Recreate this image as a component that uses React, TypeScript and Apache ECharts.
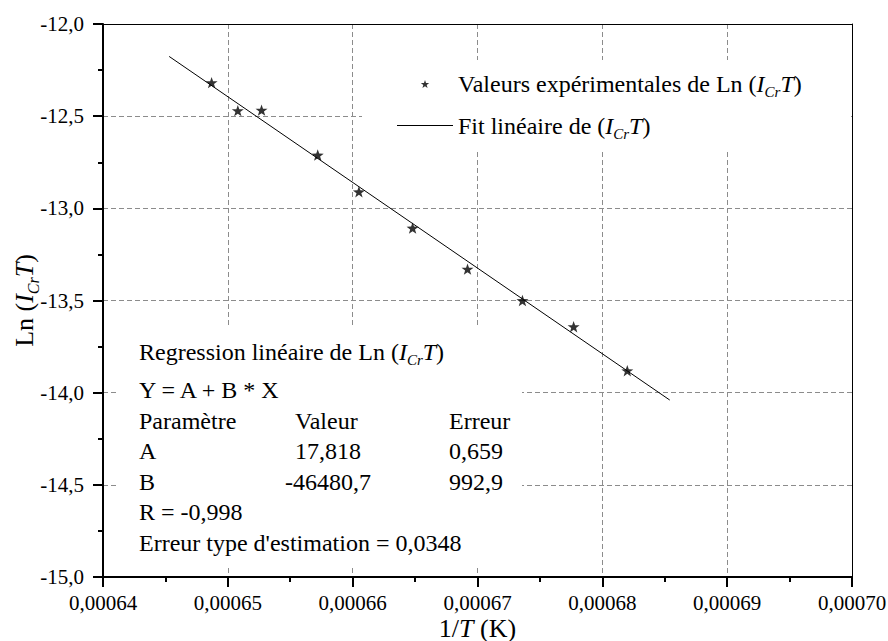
import React, { useEffect, useRef } from 'react';
import * as echarts from 'echarts';

// Experimental points: 1/T (K^-1) and Ln(I_Cr T)
const invT = [0.0006487, 0.0006508, 0.0006527, 0.0006572, 0.0006605, 0.0006648, 0.0006692, 0.0006736, 0.0006777, 0.000682];
const lnICrT = [-12.318, -12.47, -12.467, -12.711, -12.91, -13.107, -13.33, -13.5, -13.642, -13.881];

// Linear fit line endpoints
const fitInvT = [0.0006453, 0.0006854];
const fitLn = [-12.176, -14.04];

const X_MIN = 0.00064;
const X_MAX = 0.0007;
const X_STEP = 0.00001;
const Y_MIN = -15;
const Y_MAX = -12;
const Y_STEP = 0.5;

const SERIES_EXP = 'Valeurs expérimentales de Ln (ICrT)';
const SERIES_FIT = 'Fit linéaire de (ICrT)';

const regTitle = '{n|Regression linéaire de Ln (}{i|I}{s|Cr}{i|T}{n|)}';
const regEquation = 'Y = A + B * X';
const regTable = [
  ['Paramètre', 'Valeur', 'Erreur'],
  ['A', '17,818', '0,659'],
  ['B', '-46480,7', '992,9'],
];
const regR = 'R = -0,998';
const regErr = "Erreur type d'estimation = 0,0348";

const FONT = 'Liberation Serif, serif';
const STAR = 'path://M0,-100 L23.5,-32.4 L95.1,-30.9 L38,12.4 L58.8,80.9 L0,40 L-58.8,80.9 L-38,12.4 L-95.1,-30.9 L-23.5,-32.4 Z';
const LINE_ICON = 'path://M0,0 L56,0 L56,1 L0,1 Z';

export default function App() {
  const ref = useRef<HTMLDivElement>(null);

  useEffect(() => {
    if (!ref.current) return;
    const chart = echarts.init(ref.current, undefined, { renderer: 'svg' });

    const richE = {
      n: { fontSize: 24, fontFamily: FONT, color: '#000' },
      i: { fontSize: 24, fontFamily: FONT, fontStyle: 'italic', color: '#000' },
      s: { fontSize: 15, fontFamily: FONT, fontStyle: 'italic', color: '#000', padding: [16, 0, 0, 0] },
    };
    const richZ = {
      n: { fontSize: 24, fontFamily: FONT, fill: '#000' },
      i: { fontSize: 24, fontFamily: FONT, fontStyle: 'italic', fill: '#000' },
      s: { fontSize: 15, fontFamily: FONT, fontStyle: 'italic', fill: '#000', padding: [16, 0, 0, 0] },
    };

    const txt = (text: string, x: number, y: number) => ({
      type: 'text',
      x,
      y,
      z: 3,
      silent: true,
      style: { text, fontSize: 24, fontFamily: FONT, fill: '#000', verticalAlign: 'middle', align: 'left' },
    });

    const rowY = [421, 451, 482];
    const colX = [[139, 295, 449], [139, 295, 449], [139, 285, 449]];
    const tableTexts: any[] = [];
    regTable.forEach((row, r) => {
      row.forEach((cell, c) => {
        tableTexts.push(txt(cell, colX[r][c], rowY[r]));
      });
    });

    const option: any = {
      animation: false,
      backgroundColor: '#fff',
      grid: { left: 103, right: 36, top: 24, bottom: 64, containLabel: false, outerBoundsMode: 'none' },
      legend: {
        orient: 'vertical',
        left: 397,
        top: 72,
        padding: 0,
        itemWidth: 56,
        itemHeight: 8,
        itemGap: 14,
        data: [
          { name: SERIES_EXP, icon: STAR },
          { name: SERIES_FIT, icon: LINE_ICON },
        ],
        formatter: (name: string) =>
          name === SERIES_EXP
            ? '{n|Valeurs expérimentales de Ln (}{i|I}{s|Cr}{i|T}{n|)}'
            : '{n|Fit linéaire de (}{i|I}{s|Cr}{i|T}{n|)}',
        textStyle: { fontSize: 24, fontFamily: FONT, color: '#000', rich: richE },
        selectedMode: false,
      },
      xAxis: [
        {
          type: 'value',
          min: X_MIN,
          max: X_MAX,
          interval: X_STEP,
          name: '1/{i|T}{n| (K)}',
          nameLocation: 'middle',
          nameGap: 38,
          nameMoveOverlap: false,
          nameTextStyle: {
            fontSize: 26,
            fontFamily: FONT,
            color: '#000',
            rich: {
              n: { fontSize: 26, fontFamily: FONT, color: '#000' },
              i: { fontSize: 26, fontFamily: FONT, fontStyle: 'italic', color: '#000' },
            },
          },
          axisLine: { show: true, onZero: false, lineStyle: { color: '#000', width: 2 } },
          axisTick: { show: true, inside: false, length: 10, lineStyle: { color: '#000', width: 2 } },
          minorTick: { show: true, splitNumber: 2, length: 5, lineStyle: { color: '#000', width: 2 } },
          axisLabel: {
            margin: 15,
            fontSize: 21,
            fontFamily: FONT,
            color: '#000',
            hideOverlap: false,
            formatter: (v: number) => v.toFixed(5).replace('.', ','),
          },
          splitLine: { show: true, lineStyle: { color: '#8c8c8c', width: 1, type: [5, 3] } },
        },
        {
          type: 'value',
          position: 'top',
          min: X_MIN,
          max: X_MAX,
          interval: X_STEP,
          axisLine: { show: true, onZero: false, lineStyle: { color: '#000', width: 1 } },
          axisTick: { show: false },
          axisLabel: { show: false },
          splitLine: { show: false },
        },
      ],
      yAxis: [
        {
          type: 'value',
          min: Y_MIN,
          max: Y_MAX,
          interval: Y_STEP,
          name: '{n|Ln (}{i|I}{s|Cr}{i|T}{n|)}',
          nameLocation: 'middle',
          nameGap: 62,
          nameMoveOverlap: false,
          nameTextStyle: {
            fontSize: 26,
            fontFamily: FONT,
            color: '#000',
            rich: {
              n: { fontSize: 26, fontFamily: FONT, color: '#000' },
              i: { fontSize: 26, fontFamily: FONT, fontStyle: 'italic', color: '#000' },
              s: { fontSize: 16, fontFamily: FONT, fontStyle: 'italic', color: '#000', padding: [17, 0, 0, 0] },
            },
          },
          axisLine: { show: true, onZero: false, lineStyle: { color: '#000', width: 2 } },
          axisTick: { show: true, inside: false, length: 10, lineStyle: { color: '#000', width: 2 } },
          minorTick: { show: true, splitNumber: 2, length: 5, lineStyle: { color: '#000', width: 2 } },
          axisLabel: {
            margin: 19,
            fontSize: 21,
            fontFamily: FONT,
            color: '#000',
            formatter: (v: number) => v.toFixed(1).replace('.', ','),
          },
          splitLine: { show: true, lineStyle: { color: '#8c8c8c', width: 1, type: [5, 3] } },
        },
        {
          type: 'value',
          position: 'right',
          min: Y_MIN,
          max: Y_MAX,
          interval: Y_STEP,
          axisLine: { show: true, onZero: false, lineStyle: { color: '#000', width: 1 } },
          axisTick: { show: false },
          axisLabel: { show: false },
          splitLine: { show: false },
        },
      ],
      series: [
        {
          name: SERIES_EXP,
          type: 'scatter',
          xAxisIndex: 0,
          yAxisIndex: 0,
          symbol: STAR,
          symbolSize: 12,
          symbolKeepAspect: true,
          itemStyle: { color: '#000' },
          data: invT.map((x, i) => [x, lnICrT[i]]),
          z: 5,
        },
        {
          name: SERIES_FIT,
          type: 'line',
          xAxisIndex: 0,
          yAxisIndex: 0,
          symbol: 'none',
          showSymbol: false,
          lineStyle: { color: '#000', width: 1 },
          itemStyle: { color: '#000' },
          data: fitInvT.map((x, i) => [x, fitLn[i]]),
          z: 4,
        },
      ],
      graphic: [
        { type: 'rect', z: 1, silent: true, shape: { x: 362, y: 60, width: 489, height: 90 }, style: { fill: '#fff' } },
        { type: 'rect', z: 1, silent: true, shape: { x: 117, y: 327, width: 405, height: 239 }, style: { fill: '#fff' } },
        {
          type: 'text',
          x: 139,
          y: 336,
          z: 3,
          silent: true,
          style: { text: regTitle, rich: richZ, fontSize: 24, fontFamily: FONT, fill: '#000', verticalAlign: 'top', align: 'left' },
        },
        txt(regEquation, 139, 390),
        ...tableTexts,
        txt(regR, 139, 512),
        txt(regErr, 139, 543),
      ],
    };

    chart.setOption(option);
    return () => chart.dispose();
  }, []);

  return <div ref={ref} style={{ position: 'fixed', left: 0, top: 0, width: 888, height: 641 }} />;
}
